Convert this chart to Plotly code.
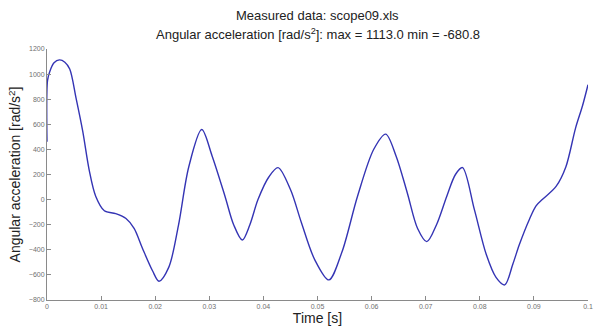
import plotly.graph_objects as go

t = [0, 0.0001, 0.0005, 0.0013, 0.0023, 0.0033, 0.0042, 0.0054, 0.0066, 0.0078,
     0.009, 0.0106, 0.0127, 0.0146, 0.0161, 0.0176, 0.0195, 0.0207, 0.0225, 0.0243,
     0.0262, 0.0286, 0.0305, 0.0329, 0.0345, 0.0361, 0.0375, 0.039, 0.041, 0.0427,
     0.045, 0.047, 0.0495, 0.0521, 0.0545, 0.0574, 0.0604, 0.0626, 0.0645, 0.0666,
     0.0685, 0.0702, 0.072, 0.0739, 0.0755, 0.0768, 0.079, 0.0812, 0.083, 0.0846,
     0.0861, 0.0873, 0.0892, 0.0904, 0.0916, 0.0941, 0.0959, 0.0977, 0.099, 0.1]
acc = [460, 950, 1019, 1090, 1113, 1095, 1040, 802, 545, 235,
       27, -89, -112, -151, -230, -384, -567, -650, -540, -205,
       260, 558, 350, 27, -200, -322, -200, 0, 180, 255,
       80, -180, -480, -640, -420, 27, 401, 522, 350, 53,
       -230, -335, -200, 27, 200, 255, -80, -438, -620, -680,
       -515, -360, -154, -50, 2, 105, 260, 570, 750, 915]

x_ticks = [0, 0.01, 0.02, 0.03, 0.04, 0.05, 0.06, 0.07, 0.08, 0.09, 0.1]
x_labels = ["0", "0.01", "0.02", "0.03", "0.04", "0.05", "0.06", "0.07", "0.08", "0.09", "0.1"]
y_ticks = [-800, -600, -400, -200, 0, 200, 400, 600, 800, 1000, 1200]

title_lines = ["Measured data: scope09.xls",
               "Angular acceleration [rad/s<sup>2</sup>]: max = 1113.0 min = -680.8"]

fig = go.Figure()
fig.add_trace(go.Scatter(x=t, y=acc, mode="lines",
                         line=dict(color="#3434b4", width=1.4, shape="spline", smoothing=0.9),
                         showlegend=False, hoverinfo="skip"))

axis_common = dict(showgrid=False, zeroline=False, showline=True, linecolor="#8a8a8a",
                   linewidth=1, ticks="inside", ticklen=4, tickcolor="#8a8a8a",
                   tickfont=dict(size=7, color="#707070", family="Liberation Sans"))

fig.update_layout(
    width=605, height=334,
    margin=dict(l=47, r=13, t=49, b=27),
    plot_bgcolor="white", paper_bgcolor="white",
    font=dict(family="Liberation Sans", color="#222222"),
)
fig.add_annotation(text=title_lines[0], xref="paper", yref="paper", x=0.5, y=1,
                   xanchor="center", yanchor="middle", yshift=49 - 15, showarrow=False,
                   font=dict(size=13, color="#222222"))
fig.add_annotation(text=title_lines[1], xref="paper", yref="paper", x=0.5, y=1,
                   xanchor="center", yanchor="middle", yshift=49 - 34, showarrow=False,
                   font=dict(size=13, color="#222222"))
fig.update_xaxes(range=[0, 0.1], tickvals=x_ticks, ticktext=x_labels,
                 title=dict(text="Time [s]", font=dict(size=14, color="#222222"), standoff=2),
                 **axis_common)
fig.update_yaxes(range=[-800, 1200], tickvals=y_ticks,
                 title=dict(text="Angular acceleration [rad/s<sup>2</sup>]", font=dict(size=14, color="#222222"), standoff=4),
                 **axis_common)

fig.write_html("out.html")
